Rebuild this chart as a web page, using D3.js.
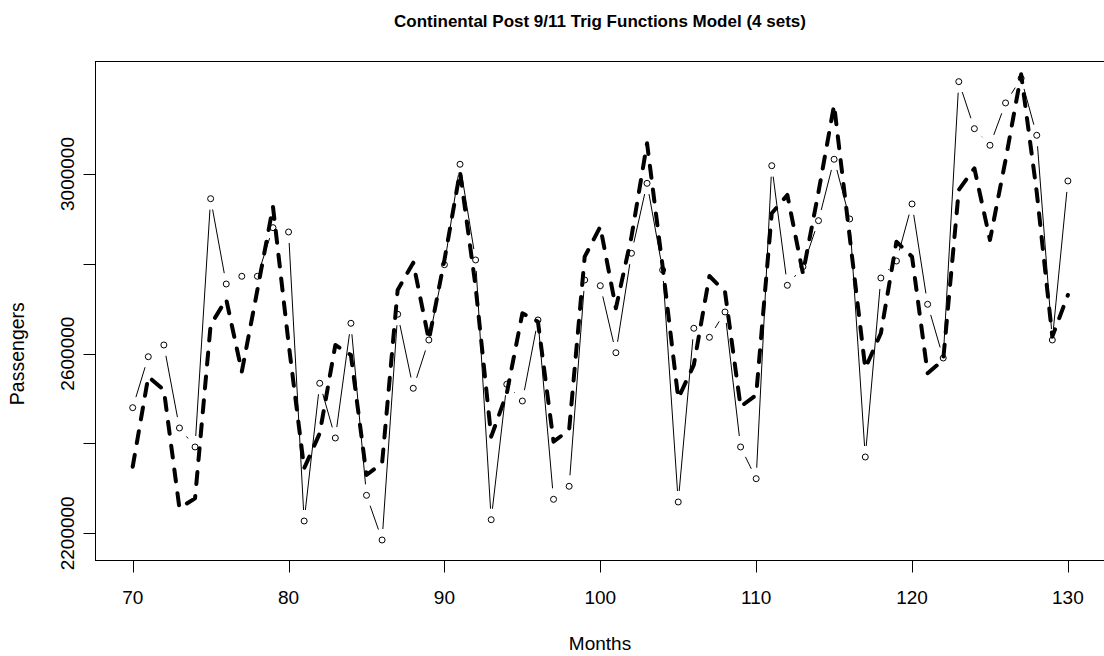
<!DOCTYPE html>
<html>
<head>
<meta charset="utf-8">
<script src="https://cdn.jsdelivr.net/npm/d3@7"></script>
<style>
  body { margin: 0; background: #fff; }
  text { font-family: "Liberation Sans", Arial, sans-serif; fill: #000; }
</style>
</head>
<body>
<div id="container"></div>
<script>
const months = [70, 71, 72, 73, 74, 75, 76, 77, 78, 79, 80, 81, 82, 83, 84, 85, 86, 87, 88, 89,
  90, 91, 92, 93, 94, 95, 96, 97, 98, 99, 100, 101, 102, 103, 104, 105, 106, 107, 108, 109,
  110, 111, 112, 113, 114, 115, 116, 117, 118, 119, 120, 121, 122, 123, 124, 125, 126, 127, 128, 129, 130];

// observed passengers (points)
const passengers = [2479700, 2593200, 2619300, 2434500, 2392200, 2945000, 2755100, 2772300, 2772300, 2880500,
  2870900, 2227400, 2534000, 2412200, 2667600, 2284600, 2185100, 2687700, 2522900, 2630400,
  2798100, 3021700, 2808600, 2230300, 2531800, 2494600, 2675000, 2275700, 2304700, 2764000,
  2751300, 2602100, 2823500, 2979300, 2786300, 2269700, 2656500, 2636400, 2692800, 2392200,
  2321600, 3018500, 2752200, 2793600, 2896100, 3032800, 2899900, 2369900, 2768500, 2806300,
  2933300, 2709900, 2590300, 3205600, 3100900, 3064000, 3158200, 3213100, 3086200, 2630400, 2984500];

// trig functions model (dashed)
const model = [2348300, 2548700, 2519100, 2255700, 2277900, 2663800, 2721000, 2559800, 2741800, 2927200,
  2623100, 2344700, 2422700, 2619300, 2597000, 2329800, 2355900, 2741800, 2802500, 2630400,
  2808600, 3005200, 2749100, 2415100, 2511700, 2689900, 2671200, 2404000, 2430000, 2815900,
  2882700, 2701000, 2860400, 3068400, 2793600, 2500600, 2574800, 2772900, 2738000, 2481900,
  2508000, 2912500, 2953300, 2778900, 2960000, 3153700, 2860400, 2567400, 2645300, 2849300,
  2815900, 2556300, 2585900, 2964400, 3012700, 2853100, 3031200, 3222000, 2960000, 2637800, 2730600];

const xTicks = [70, 80, 90, 100, 110, 120, 130];
const yTicks = [2200000, 2400000, 2600000, 2800000, 3000000];
const yLabels = [2200000, 2600000, 3000000];

const W = 1104, H = 656;
const box = { left: 95, top: 61, right: 1106, bottom: 560 };

const svg = d3.select("#container").append("svg")
  .attr("width", W).attr("height", H);

const x = d3.scaleLinear().domain([70, 130]).range([132.7, 1067.9]);
const y = d3.scaleLinear().domain([2200000, 3000000]).range([533.3, 174]);

// plot box
svg.append("rect")
  .attr("x", box.left + 0.5).attr("y", box.top + 0.5)
  .attr("width", box.right - box.left).attr("height", box.bottom - box.top)
  .attr("fill", "none").attr("stroke", "#000").attr("stroke-width", 1);

// x axis
const xAxis = svg.append("g").attr("transform", "translate(0," + (box.bottom + 0.5) + ")");
xAxis.append("line")
  .attr("x1", x(70)).attr("x2", x(130))
  .attr("stroke", "#000");
xAxis.selectAll("line.tick").data(xTicks).join("line")
  .attr("class", "tick")
  .attr("x1", d => Math.round(x(d)) + 0.5).attr("x2", d => Math.round(x(d)) + 0.5)
  .attr("y1", 0).attr("y2", 12)
  .attr("stroke", "#000");
xAxis.selectAll("text").data(xTicks).join("text")
  .attr("x", d => x(d)).attr("y", 43)
  .attr("text-anchor", "middle")
  .attr("font-size", 19)
  .text(d => d);

// y axis
const yAxis = svg.append("g").attr("transform", "translate(" + (box.left + 0.5) + ",0)");
yAxis.append("line")
  .attr("y1", y(2200000)).attr("y2", y(3000000))
  .attr("stroke", "#000");
yAxis.selectAll("line.tick").data(yTicks).join("line")
  .attr("class", "tick")
  .attr("y1", d => Math.round(y(d)) + 0.5).attr("y2", d => Math.round(y(d)) + 0.5)
  .attr("x1", 0).attr("x2", -12)
  .attr("stroke", "#000");
yAxis.selectAll("text").data(yLabels).join("text")
  .attr("transform", d => "translate(-22," + y(d) + ") rotate(-90)")
  .attr("text-anchor", "middle")
  .attr("font-size", 19)
  .text(d => d);

// titles
svg.append("text")
  .attr("x", 600).attr("y", 27)
  .attr("text-anchor", "middle")
  .attr("font-size", 17).attr("font-weight", "bold")
  .text("Continental Post 9/11 Trig Functions Model (4 sets)");

svg.append("text")
  .attr("x", 600).attr("y", 650)
  .attr("text-anchor", "middle")
  .attr("font-size", 19)
  .text("Months");

svg.append("text")
  .attr("transform", "translate(24," + y(2600000) + ") rotate(-90)")
  .attr("text-anchor", "middle")
  .attr("font-size", 19.5)
  .text("Passengers");

// model, thick dashed
const line = d3.line()
  .x((d, i) => x(months[i]))
  .y(d => y(d));

svg.append("path")
  .datum(model)
  .attr("fill", "none")
  .attr("stroke", "#000")
  .attr("stroke-width", 4)
  .attr("stroke-dasharray", "12,12")
  .attr("stroke-linecap", "round")
  .attr("stroke-linejoin", "round")
  .attr("d", line);

// observed, type "b": segments with gaps around the points
const gap = 11;
const segs = [];
for (let i = 0; i < months.length - 1; i++) {
  const x1 = x(months[i]), y1 = y(passengers[i]);
  const x2 = x(months[i + 1]), y2 = y(passengers[i + 1]);
  const d = Math.hypot(x2 - x1, y2 - y1);
  if (d > 2 * gap) {
    const ux = (x2 - x1) / d, uy = (y2 - y1) / d;
    segs.push([x1 + ux * gap, y1 + uy * gap, x2 - ux * gap, y2 - uy * gap]);
  }
}
svg.append("g").selectAll("line").data(segs).join("line")
  .attr("x1", d => d[0]).attr("y1", d => d[1])
  .attr("x2", d => d[2]).attr("y2", d => d[3])
  .attr("stroke", "#000").attr("stroke-width", 1);

svg.append("g").selectAll("circle").data(passengers).join("circle")
  .attr("cx", (d, i) => x(months[i]))
  .attr("cy", d => y(d))
  .attr("r", 3)
  .attr("fill", "none")
  .attr("stroke", "#000")
  .attr("stroke-width", 1);
</script>
</body>
</html>
